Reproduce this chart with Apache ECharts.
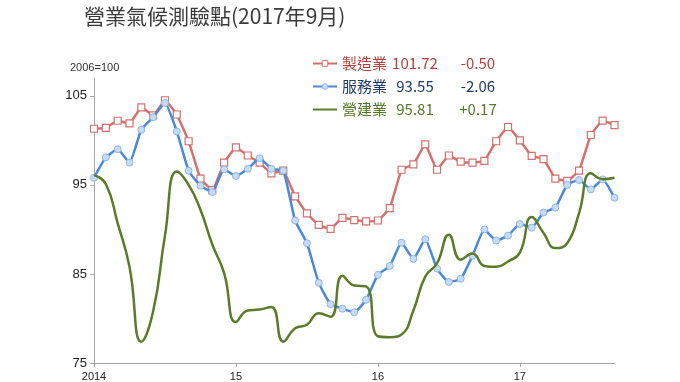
<!DOCTYPE html>
<html><head><meta charset="utf-8">
<script src="https://cdn.jsdelivr.net/npm/echarts@6/dist/echarts.min.js"></script>
<style>html,body{margin:0;padding:0;background:#fff}#c{width:680px;height:382px}</style>
</head><body><div id="c"></div>
<script>
const titleText = '營業氣候測驗點(2017年9月)';
const unitText = '2006=100';
const categories = ['2014/01','2014/02','2014/03','2014/04','2014/05','2014/06','2014/07','2014/08','2014/09','2014/10','2014/11','2014/12',
'2015/01','2015/02','2015/03','2015/04','2015/05','2015/06','2015/07','2015/08','2015/09','2015/10','2015/11','2015/12',
'2016/01','2016/02','2016/03','2016/04','2016/05','2016/06','2016/07','2016/08','2016/09','2016/10','2016/11','2016/12',
'2017/01','2017/02','2017/03','2017/04','2017/05','2017/06','2017/07','2017/08','2017/09'];
const xTickCats = ['2014/01','2015/01','2016/01','2017/01'];
const xTickLabels = ['2014','15','16','17'];
const yTicks = [75,85,95,105];
const seriesNames = ['製造業','服務業','營建業'];
const legendValues = ['101.72','93.55','95.81'];
const legendChanges = ['-0.50','-2.06','+0.17'];
const manufacturing = [101.3,101.4,102.2,101.9,103.7,102.8,104.5,102.9,99.9,95.7,94.4,97.5,99.2,98.3,97.5,96.3,96.6,93.7,91.8,90.5,90.05,91.3,91.05,90.9,91.0,92.4,96.7,97.3,99.55,96.7,98.3,97.6,97.5,97.7,99.9,101.5,100.0,98.25,97.9,95.7,95.45,96.6,100.6,102.22,101.72];
const services = [95.8,98.1,99.0,97.5,101.2,102.6,104.2,101.0,96.6,94.9,94.2,96.75,96.0,96.8,98.0,96.8,96.6,91.0,88.45,84.0,81.6,81.1,80.7,82.1,84.9,85.9,88.5,86.7,88.9,85.6,84.1,84.45,87.05,90.0,88.75,89.3,90.6,90.2,91.9,92.45,95.0,95.55,94.5,95.61,93.55];
const construction = [96.1,95.1,90.7,85.8,77.4,80.8,89.3,96.5,95.0,92.2,88.3,85.1,79.6,80.9,81.0,81.3,77.4,78.9,79.3,80.6,80.2,84.8,83.7,83.6,78.0,77.9,78.2,80.9,84.7,86.2,89.4,86.6,87.3,85.9,85.8,86.4,87.4,91.4,89.6,87.9,88.45,91.8,96.3,95.64,95.81];

const lineColors = ['#d2716f','#4a88d8','#5b7b2b'];
const textColors = ['#b0403e','#1f3a68','#56762a'];
const font = '"Noto Sans CJK TC","Noto Sans",sans-serif';

const chart = echarts.init(document.getElementById('c'), null, {renderer:'canvas'});
const rich = {};
textColors.forEach((c,i)=>{
  rich['n'+i] = {color:c, fontSize:15, width:50, fontFamily:font};
  rich['v'+i] = {color:c, fontSize:15, width:46, align:'right', fontFamily:font};
  rich['c'+i] = {color:c, fontSize:15, width:80, align:'center', fontFamily:font};
});
chart.setOption({
  animation:false,
  textStyle:{fontFamily:font},
  title:{text:titleText, left:79, top:1, textStyle:{fontSize:21, fontWeight:'normal', color:'#3a3a3a', fontFamily:font}},
  graphic:[{type:'text', left:70, top:62, style:{text:unitText, fontSize:11, fill:'#333', fontFamily:'"Liberation Sans",sans-serif'}}],
  legend:{
    orient:'vertical', left:307, top:50, itemWidth:24, itemHeight:7, itemGap:6,
    data: seriesNames.map((n,i)=>({name:n, textStyle:{color:textColors[i]}, lineStyle:{width:2},
      itemStyle: i===2 ? {opacity:0} : {borderWidth:1}})),
    formatter: name => { const i = seriesNames.indexOf(name); return `{n${i}|${name}}{v${i}|${legendValues[i]}}{c${i}|${legendChanges[i]}}`; },
    textStyle:{rich:rich, fontSize:15, lineHeight:17}
  },
  grid:{left:94, right:65.5, top:78, bottom:18.7},
  xAxis:{
    type:'category', data:categories, boundaryGap:false,
    axisLine:{lineStyle:{color:'#a6a6a6'}},
    axisTick:{interval:(i,v)=>xTickCats.indexOf(v)>=0, length:4, lineStyle:{color:'#a6a6a6'}},
    axisLabel:{interval:(i,v)=>xTickCats.indexOf(v)>=0, formatter:v=>{const k=xTickCats.indexOf(v);return k>=0?xTickLabels[k]:'';}, color:'#222', fontSize:11, margin:8, fontFamily:'"Liberation Sans",sans-serif'},
    splitLine:{show:false}
  },
  yAxis:{
    type:'value', min:75, max:107, interval:10,
    axisLine:{show:true, lineStyle:{color:'#a6a6a6'}},
    axisTick:{show:true, length:4, customValues:yTicks, lineStyle:{color:'#a6a6a6'}},
    axisLabel:{customValues:yTicks, color:'#222', fontSize:13, margin:7, fontFamily:'"Liberation Sans",sans-serif'},
    splitLine:{show:false}
  },
  series:[
    {name:seriesNames[0], type:'line', data:manufacturing, smooth:0.1, symbol:'rect', symbolSize:7, showAllSymbol:true,
     lineStyle:{width:2.5, color:lineColors[0]}, itemStyle:{color:'#ffffff', borderColor:lineColors[0], borderWidth:1.2}, z:3},
    {name:seriesNames[1], type:'line', data:services, smooth:0.15, symbol:'circle', symbolSize:7, showAllSymbol:true,
     lineStyle:{width:2.5, color:lineColors[1]}, itemStyle:{color:'#c7dbf3', borderColor:'#8fb5e6', borderWidth:1}, z:4},
    {name:seriesNames[2], type:'line', data:construction, smooth:0.5, symbol:'none', showSymbol:false,
     lineStyle:{width:2.5, color:lineColors[2]}, itemStyle:{color:lineColors[2]}, z:5}
  ]
});
</script></body></html>
